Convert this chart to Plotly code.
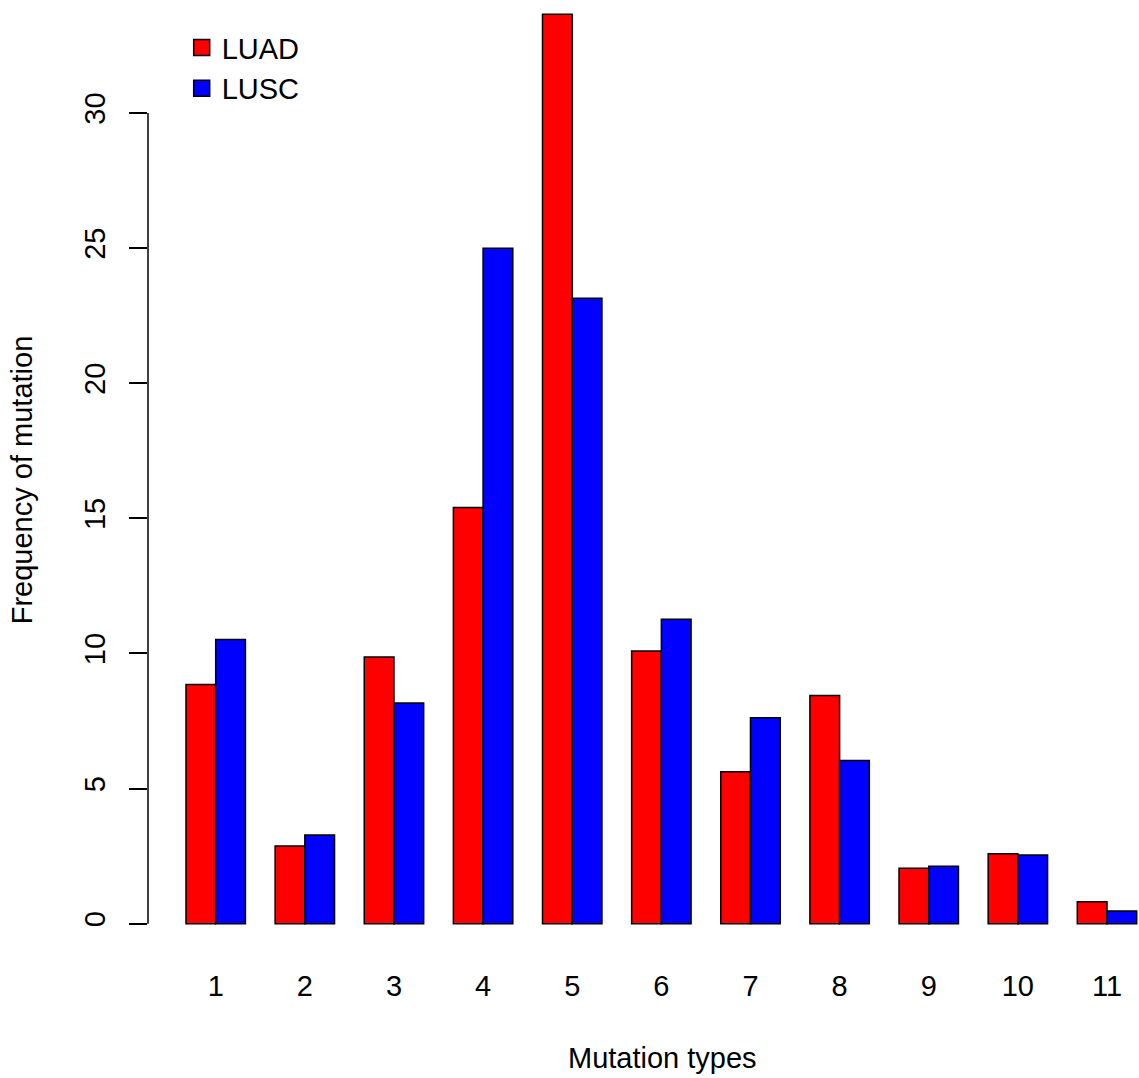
import plotly.graph_objects as go

mutation_types = [1, 2, 3, 4, 5, 6, 7, 8, 9, 10, 11]
tick_labels = ["1", "2", "3", "4", "5", "6", "7", "8", "9", "10", "11"]
luad = [8.85, 2.87, 9.87, 15.40, 33.65, 10.09, 5.62, 8.44, 2.05, 2.59, 0.81]
lusc = [10.51, 3.28, 8.16, 24.99, 23.14, 11.26, 7.62, 6.04, 2.12, 2.54, 0.47]
y_ticks = [0, 5, 10, 15, 20, 25, 30]

FONT = "Liberation Sans, Arial, sans-serif"
FS = 29

fig = go.Figure()
fig.add_trace(go.Bar(x=mutation_types, y=luad, name="LUAD", width=1/3, offset=-1/3,
                     marker=dict(color="#FF0000", line=dict(color="black", width=1.5)),
                     showlegend=False))
fig.add_trace(go.Bar(x=mutation_types, y=lusc, name="LUSC", width=1/3, offset=0,
                     marker=dict(color="#0000FF", line=dict(color="black", width=1.5)),
                     showlegend=False))
# legend entries
for name, col in [("LUAD", "#FF0000"), ("LUSC", "#0000FF")]:
    fig.add_trace(go.Scatter(x=[None], y=[None], mode="markers", name=name,
                             marker=dict(symbol="square", size=16, color=col,
                                         line=dict(color="black", width=1.5))))

fig.add_shape(type="line", xref="paper", yref="y", x0=0, x1=0, y0=y_ticks[0], y1=y_ticks[-1],
              line=dict(color="black", width=1.5))

fig.add_annotation(text="Mutation types", xref="paper", yref="paper", x=0.5187, y=0,
                   yshift=-98, xanchor="center", yanchor="middle", showarrow=False,
                   font=dict(size=FS, family=FONT, color="black"))

fig.update_layout(
    width=1139, height=1078,
    margin=dict(l=148, r=0, t=0, b=118),
    plot_bgcolor="white", paper_bgcolor="white",
    barmode="overlay",
    font=dict(family=FONT, size=FS, color="black"),
    showlegend=True,
    legend=dict(x=0.034, y=0.977, xanchor="left", yanchor="top", bgcolor="rgba(0,0,0,0)",
                font=dict(size=FS, family=FONT), itemsizing="trace", tracegroupgap=0),
    xaxis=dict(range=[0.2404, 11.359], tickvals=mutation_types, ticktext=tick_labels,
               showline=False, showgrid=False, zeroline=False, ticks="",
               ticklabelstandoff=6,
               tickfont=dict(size=FS, family=FONT)),
    yaxis=dict(range=[-1.346, 34.18], tickvals=y_ticks, ticktext=[str(v) for v in y_ticks],
               showline=False, showgrid=False, zeroline=False, ticks="outside", ticklen=18,
               tickwidth=1.5, tickcolor="black", tickangle=-90, ticklabelstandoff=12,
               tickfont=dict(size=FS, family=FONT),
               title=dict(text="Frequency of mutation", font=dict(size=FS, family=FONT), standoff=38)),
)

fig.write_html("out.html")
